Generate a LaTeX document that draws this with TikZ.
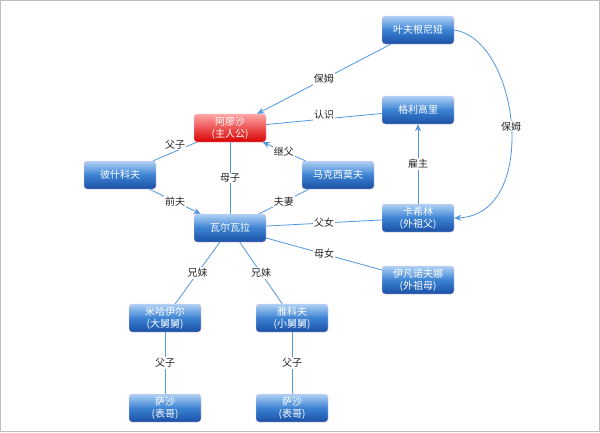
\documentclass[tikz,border=0pt]{standalone}
\usepackage{fontspec}
\setmainfont{Noto Sans CJK SC}
\usetikzlibrary{arrows.meta}

\definecolor{linkblue}{RGB}{80,150,225}
\definecolor{boxtop}{RGB}{175,210,245}
\definecolor{boxmid}{RGB}{60,130,210}
\definecolor{boxbot}{RGB}{25,80,165}
\tikzset{
  person/.style={draw=magenta!25!white, rounded corners=3pt, minimum width=72pt, minimum height=28pt,
    top color=boxtop, bottom color=boxbot, middle color=boxmid,
    text=white, font=\fontsize{10}{12}\selectfont, align=center, inner sep=1pt},
  hero/.style={person, top color=red!35!white, middle color=red, bottom color=red!85!black, draw=pink},
  rel/.style={draw=linkblue, line width=0.8pt},
  relarrow/.style={rel, -{Stealth[length=7pt,width=6pt]}},
  tag/.style={fill=white, inner sep=1pt, font=\fontsize{10}{12}\selectfont, text=black!85}
}

\begin{document}
\begin{tikzpicture}[x=1pt,y=-1pt]
\useasboundingbox (0,0) rectangle (600,432);
\draw[black!25] (0.5,0.5) rectangle (599.5,431.5);

\node[person] (yevg) at (418,30) {叶夫根尼娅};
\node[hero] (alyosha) at (230,128) {阿廖沙\\(主人公)};
\node[person] (grig) at (418,110) {格利高里};
\node[person] (pesh) at (120,175) {彼什科夫};
\node[person] (maks) at (338,175) {马克西莫夫};
\node[person] (varv) at (230,228) {瓦尔瓦拉};
\node[person] (kash) at (418,218) {卡希林\\(外祖父)};
\node[person] (ivan) at (418,280) {伊凡诺夫娜\\(外祖母)};
\node[person] (mikh) at (165,318) {米哈伊尔\\(大舅舅)};
\node[person] (yako) at (292,318) {雅科夫\\(小舅舅)};
\node[person] (sasha1) at (165,408) {萨沙\\(表哥)};
\node[person] (sasha2) at (292,408) {萨沙\\(表哥)};

\draw[relarrow] (yevg) -- node[tag] {保姆} (alyosha);
\draw[relarrow] (yevg.east) .. controls (520,40) and (540,215) .. (kash.east) node[tag, pos=0.5] {保姆};
\draw[rel] (grig) -- node[tag, above=-2pt] {认识} (alyosha);
\draw[rel] (pesh) -- node[tag, above=1pt] {父子} (alyosha);
\draw[relarrow] (maks) -- node[tag] {继父} (alyosha);
\draw[rel] (alyosha) -- node[tag] {母子} (varv);
\draw[relarrow] (pesh) -- node[tag] {前夫} (varv);
\draw[rel] (maks) -- node[tag] {夫妻} (varv);
\draw[relarrow] (kash) -- node[tag] {雇主} (grig);
\draw[rel] (kash) -- node[tag] {父女} (varv);
\draw[rel] (ivan) -- node[tag] {母女} (varv);
\draw[rel] (varv) -- node[tag] {兄妹} (mikh);
\draw[rel] (varv) -- node[tag] {兄妹} (yako);
\draw[rel] (mikh) -- node[tag] {父子} (sasha1);
\draw[rel] (yako) -- node[tag] {父子} (sasha2);
\end{tikzpicture}
\end{document}
